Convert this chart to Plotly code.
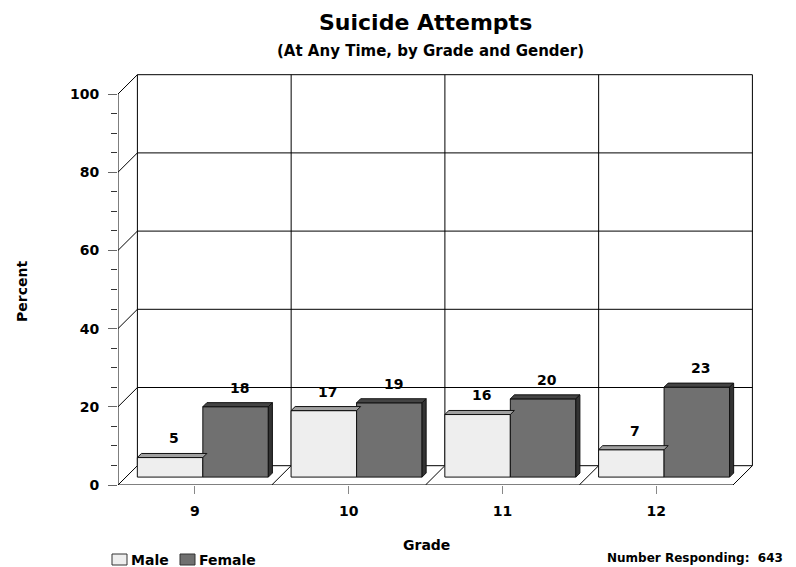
import plotly.graph_objects as go

# ---------------- data ----------------
grades = ["9", "10", "11", "12"]
male = [5, 17, 16, 7]
female = [18, 19, 20, 23]
y_ticks = [0, 20, 40, 60, 80, 100]
y_minor_ticks = [0, 5, 10, 15, 20, 25, 30, 35, 40, 45, 50, 55, 60, 65, 70, 75, 80, 85, 90, 95, 100]
series_names = ["Male", "Female"]
title_text = "Suicide Attempts"
subtitle_text = "(At Any Time, by Grade and Gender)"
x_title = "Grade"
y_title = "Percent"
n_responding = 643

# ---------------- style / layout ----------------
FONT = "DejaVu Sans"
FIG_W, FIG_H = 796, 567
ML, MR, MT, MB = 118, 41, 72, 82
PW = FIG_W - ML - MR
PH = FIG_H - MT - MB
CAT_PX = 153.75          # pixels per category on the front plane
Y_PX = 3.91              # pixels per percent
X_RANGE = [-0.5, -0.5 + PW / CAT_PX]
Y_RANGE = [0, PH / Y_PX]
DX = 19.4 / CAT_PX       # wall depth in x units
DY = 19.3 / Y_PX         # wall depth in y units
F0, F1 = 0.41, 0.62      # bar front / back depth fractions
BW = 0.426               # bar width (x units)
Y_MAX = y_ticks[-1]

C_MALE = dict(front="#EEEEEE", top="#A0A0A0", side="#8A8A8A")
C_FEM = dict(front="#707070", top="#444444", side="#333333")
EDGE = "#111111"


def fnt(size):
    return dict(family=FONT, size=size, color="black", weight="bold")


def px_x(px):
    return (px - ML) / PW


def px_y(py):
    return (FIG_H - MB - py) / PH


n = len(grades)
idx = list(range(n))
x_left = -0.5
x_right = n - 0.5

shapes = []


def line(x0, y0, x1, y1, color="black", width=1, layer="below"):
    shapes.append(dict(type="line", xref="x", yref="y", x0=x0, y0=y0, x1=x1, y1=y1,
                       line=dict(color=color, width=width), layer=layer))


# floor
line(x_left, 0, x_right, 0)
line(x_left + DX, DY, x_right + DX, DY)
for k in range(n + 1):
    xb = x_left + k
    line(xb, 0, xb + DX, DY)
# back wall verticals
for k in range(n + 1):
    xb = x_left + k + DX
    line(xb, DY, xb, Y_MAX + DY)
# back wall horizontals + left wall diagonals
for v in y_ticks[1:]:
    line(x_left + DX, v + DY, x_right + DX, v + DY)
    line(x_left, v, x_left + DX, v + DY)
# front value axis line
line(x_left, 0, x_left, Y_MAX)

fig = go.Figure()

# front faces of bars
bar_specs = [
    (series_names[0], male, -BW, C_MALE),
    (series_names[1], female, 0.0, C_FEM),
]
for name, vals, off, col in bar_specs:
    fig.add_trace(go.Bar(
        name=name,
        x=[i + F0 * DX for i in idx],
        y=vals,
        base=[F0 * DY] * n,
        offset=off,
        width=BW,
        marker=dict(color=col["front"], line=dict(color=EDGE, width=1)),
        showlegend=False,
        hoverinfo="skip",
    ))


def poly(pts, fill):
    xs = [p[0] for p in pts] + [pts[0][0]]
    ys = [p[1] for p in pts] + [pts[0][1]]
    fig.add_trace(go.Scatter(x=xs, y=ys, mode="lines", fill="toself", fillcolor=fill,
                             line=dict(color=EDGE, width=1), showlegend=False,
                             hoverinfo="skip"))


t = F1 - F0
for i in idx:
    for s, (name, vals, off, col) in enumerate(bar_specs):
        v = vals[i]
        x0 = i + F0 * DX + off
        x1 = x0 + BW
        yb = F0 * DY
        yt = v + F0 * DY
        # top face
        poly([(x0, yt), (x1, yt), (x1 + t * DX, yt + t * DY), (x0 + t * DX, yt + t * DY)],
             col["top"])
        # right side face (hidden if the neighbour to the right is taller)
        hidden = s == 0 and female[i] >= male[i]
        if not hidden:
            poly([(x1, yb), (x1, yt), (x1 + t * DX, yt + t * DY), (x1 + t * DX, yb + t * DY)],
                 col["side"])

annotations = []
# data labels
for i in idx:
    for name, vals, off, col in bar_specs:
        v = vals[i]
        xc = i + F1 * DX + off + BW / 2
        annotations.append(dict(x=xc, y=v + F1 * DY, xref="x", yref="y", text=str(v),
                                showarrow=False, yanchor="middle", yshift=15,
                                font=fnt(14)))

# titles
annotations.append(dict(x=px_x(425), y=px_y(22), xref="paper", yref="paper", text=title_text,
                        showarrow=False, xanchor="center", yanchor="middle", font=fnt(22)))
annotations.append(dict(x=px_x(430), y=px_y(51), xref="paper", yref="paper", text=subtitle_text,
                        showarrow=False, xanchor="center", yanchor="middle", font=fnt(15)))
annotations.append(dict(x=px_x(426), y=px_y(545), xref="paper", yref="paper", text=x_title,
                        showarrow=False, xanchor="center", yanchor="middle", font=fnt(14)))
annotations.append(dict(x=px_x(22), y=px_y(292), xref="paper", yref="paper", text=y_title,
                        showarrow=False, xanchor="center", yanchor="middle", textangle=-90,
                        font=fnt(14)))
annotations.append(dict(x=px_x(785), y=px_y(558), xref="paper", yref="paper",
                        text="Number Responding:\u00a0 " + str(n_responding),
                        showarrow=False, xanchor="right", yanchor="middle", font=fnt(12)))

# legend (manual)
legend_items = [(series_names[0], C_MALE["front"], 112), (series_names[1], C_FEM["front"], 180)]
for name, colr, lx in legend_items:
    shapes.append(dict(type="rect", xref="paper", yref="paper",
                       x0=px_x(lx), x1=px_x(lx + 15), y0=px_y(565), y1=px_y(554),
                       fillcolor=colr, line=dict(color="#333333", width=1), layer="above"))
    annotations.append(dict(x=px_x(lx + 17), y=px_y(559.5), xref="paper", yref="paper",
                            text=name, showarrow=False, xanchor="left", yanchor="middle",
                            font=fnt(14)))

fig.update_layout(
    width=FIG_W, height=FIG_H, autosize=False,
    margin=dict(l=ML, r=MR, t=MT, b=MB, autoexpand=False),
    paper_bgcolor="white", plot_bgcolor="white",
    barmode="overlay",
    showlegend=False,
    shapes=shapes,
    annotations=annotations,
    font=dict(family=FONT, color="black"),
    xaxis=dict(range=X_RANGE, tickvals=idx, ticktext=grades, showgrid=False,
               zeroline=False, showline=False, ticks="outside", ticklen=8, tickwidth=1,
               tickcolor="#888888", ticklabelstandoff=5, tickfont=fnt(14), fixedrange=True),
    yaxis=dict(range=Y_RANGE, tickvals=y_ticks, showgrid=False, zeroline=False,
               showline=False, ticks="outside", ticklen=9, tickwidth=1,
               tickcolor="#666666", ticklabelstandoff=6, tickfont=fnt(14),
               minor=dict(tickvals=y_minor_ticks, ticks="outside", ticklen=6,
                          tickcolor="#333333", showgrid=False),
               fixedrange=True),
)

fig.write_html("out.html", config={"displayModeBar": False, "staticPlot": True},
               post_script="document.body.style.margin='0px';document.body.style.padding='0px';")
